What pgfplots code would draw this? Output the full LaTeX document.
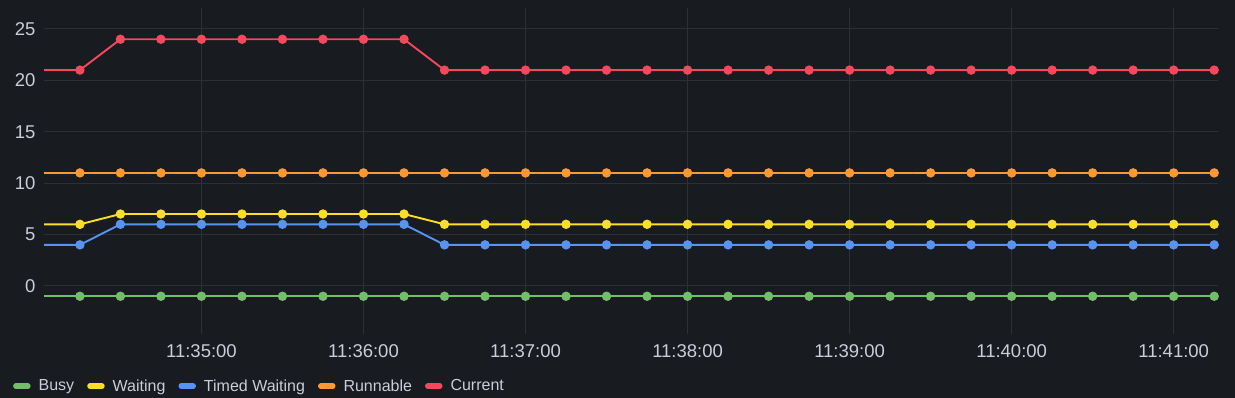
\documentclass[border=0pt]{standalone}
\usepackage{pgfplots}
\usepackage{pgfplotstable}
\pgfplotsset{compat=1.18}
\usepackage{fontspec}
\setmainfont{Liberation Sans}
\definecolor{bg}{HTML}{181B1F}
\definecolor{gridc}{HTML}{2C2F34}
\definecolor{txt}{HTML}{CCCCDC}
\definecolor{cbusy}{HTML}{73BF69}
\definecolor{cwait}{HTML}{FADE2A}
\definecolor{ctimed}{HTML}{5794F2}
\definecolor{crun}{HTML}{FF9830}
\definecolor{ccur}{HTML}{F2495C}

\pgfplotstableread{
t busy wait timed run cur
-60 -1 6 4 11 21
-45 -1 6 4 11 21
-30 -1 7 6 11 24
-15 -1 7 6 11 24
0 -1 7 6 11 24
15 -1 7 6 11 24
30 -1 7 6 11 24
45 -1 7 6 11 24
60 -1 7 6 11 24
75 -1 7 6 11 24
90 -1 6 4 11 21
105 -1 6 4 11 21
120 -1 6 4 11 21
135 -1 6 4 11 21
150 -1 6 4 11 21
165 -1 6 4 11 21
180 -1 6 4 11 21
195 -1 6 4 11 21
210 -1 6 4 11 21
225 -1 6 4 11 21
240 -1 6 4 11 21
255 -1 6 4 11 21
270 -1 6 4 11 21
285 -1 6 4 11 21
300 -1 6 4 11 21
315 -1 6 4 11 21
330 -1 6 4 11 21
345 -1 6 4 11 21
360 -1 6 4 11 21
375 -1 6 4 11 21
}\data

\begin{document}
\begin{tikzpicture}
\fill[bg] (0pt,0pt) rectangle (1235pt,398pt);
\begin{axis}[
  at={(44pt,64pt)}, anchor=south west,
  scale only axis, width=1174pt, height=326pt,
  xmin=-58.3, xmax=376.4, ymin=-4.67, ymax=27.04,
  axis line style={draw=none},
  tick style={draw=none},
  grid=major,
  major grid style={gridc, line width=1pt},
  xtick={0,60,...,360},
  xticklabels={11:35:00,11:36:00,11:37:00,11:38:00,11:39:00,11:40:00,11:41:00},
  ytick={0,5,...,25},
  yticklabels={0,5,10,15,20,25},
  ticklabel style={font=\fontsize{18.5}{21}\selectfont, text=txt},
  xticklabel style={yshift=-7pt},
  yticklabel style={xshift=-5pt},
  /pgf/number format/assume math mode=true,
  clip mode=individual,
  every axis plot/.append style={line width=1.9pt, mark=*, mark size=3.7pt, mark indices={1,...,29}},
  legend image code/.code={\draw[line width=5.5pt, line cap=round] (0pt,0pt) -- (12pt,0pt);},
  legend style={at={(-0.029,-0.16)}, anchor=west, draw=none, fill=none, text=txt,
    font=\fontsize{16}{19}\selectfont, legend columns=-1,
    /tikz/every odd column/.append style={column sep=6pt},
    /tikz/every even column/.append style={column sep=11pt}},
]
\addplot[cbusy] table[x=t,y=busy] {\data};
\addlegendentry{Busy}
\addplot[cwait] table[x=t,y=wait] {\data};
\addlegendentry{Waiting}
\addplot[ctimed] table[x=t,y=timed] {\data};
\addlegendentry{Timed Waiting}
\addplot[crun] table[x=t,y=run] {\data};
\addlegendentry{Runnable}
\addplot[ccur] table[x=t,y=cur] {\data};
\addlegendentry{Current}
\end{axis}
\end{tikzpicture}
\end{document}
